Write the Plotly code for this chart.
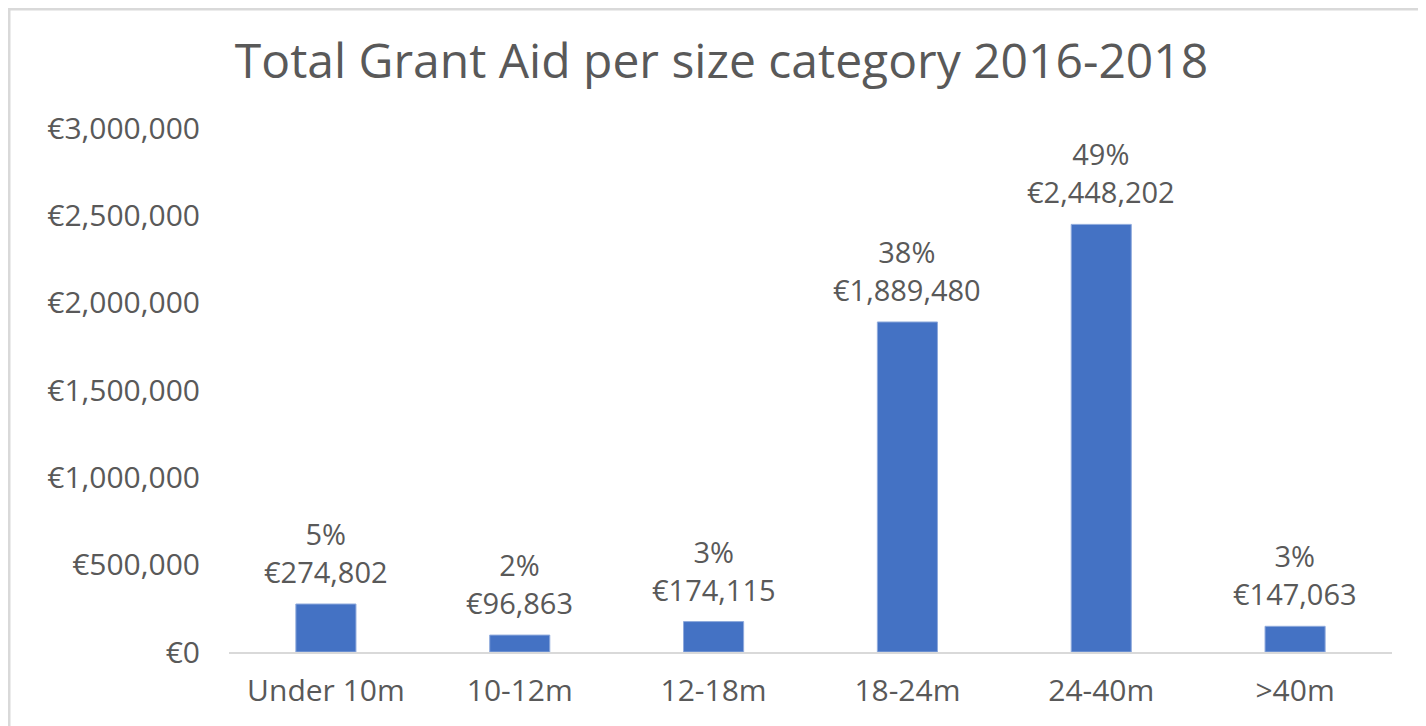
import plotly.graph_objects as go

categories = ["Under 10m", "10-12m", "12-18m", "18-24m", "24-40m", ">40m"]
values = [274802, 96863, 174115, 1889480, 2448202, 147063]
percents = ["5%", "2%", "3%", "38%", "49%", "3%"]
tick_vals = [0, 500000, 1000000, 1500000, 2000000, 2500000, 3000000]
tick_text = ["€0", "€500,000", "€1,000,000", "€1,500,000", "€2,000,000", "€2,500,000", "€3,000,000"]

# page body adds an 8px offset, so the figure is sized to the visible area
W, H = 1418, 718
ML, MR, MT, MB = 221, 34, 120, 74
FONT = "Open Sans"
GREY = "#595959"

fig = go.Figure()
fig.add_trace(go.Bar(
    x=categories, y=values,
    marker=dict(color="#4472C4", line=dict(color="#8FAADC", width=1)),
    width=0.31,
    hoverinfo="skip",
))

for c, v, p in zip(categories, values, percents):
    fig.add_annotation(
        x=c, y=v, xref="x", yref="y",
        text=f"{p}<br>€{v:,}",
        showarrow=False, yanchor="bottom", yshift=11,
        font=dict(family=FONT, size=29, color=GREY),
        align="center",
    )

pw = W - ML - MR
ph = H - MT - MB
# chart border (top and left visible)
fig.add_shape(
    type="rect", xref="paper", yref="paper",
    x0=(1 - ML) / pw, x1=(W + 10 - ML) / pw,
    y0=-(H + 10 - MT - ph) / ph, y1=(H - 1 - MB) / ph,
    line=dict(color="#D9D9D9", width=3), fillcolor="rgba(0,0,0,0)", layer="below",
)

fig.update_layout(
    width=W, height=H,
    margin=dict(l=ML, r=MR, t=MT, b=MB, autoexpand=False),
    paper_bgcolor="white", plot_bgcolor="white",
    showlegend=False,
    title=dict(
        text="Total Grant Aid per size category 2016-2018",
        x=713.5 / W, xanchor="center", xref="container",
        y=(H - 53) / H, yanchor="middle", yref="container",
        font=dict(family=FONT, size=48, color=GREY),
    ),
    xaxis=dict(
        showgrid=False, showline=True, linecolor="#D9D9D9", linewidth=2,
        tickfont=dict(family=FONT, size=30, color=GREY),
        ticks="outside", ticklen=11, tickcolor="rgba(0,0,0,0)",
        fixedrange=True, automargin=False,
    ),
    yaxis=dict(
        range=[0, 3000000], tickvals=tick_vals, ticktext=tick_text,
        showgrid=False, zeroline=False, showline=False,
        tickfont=dict(family=FONT, size=30, color=GREY),
        ticks="outside", ticklen=22, tickcolor="rgba(0,0,0,0)",
        fixedrange=True, automargin=False,
    ),
    bargap=0.69,
)

fig.write_html("out.html")
